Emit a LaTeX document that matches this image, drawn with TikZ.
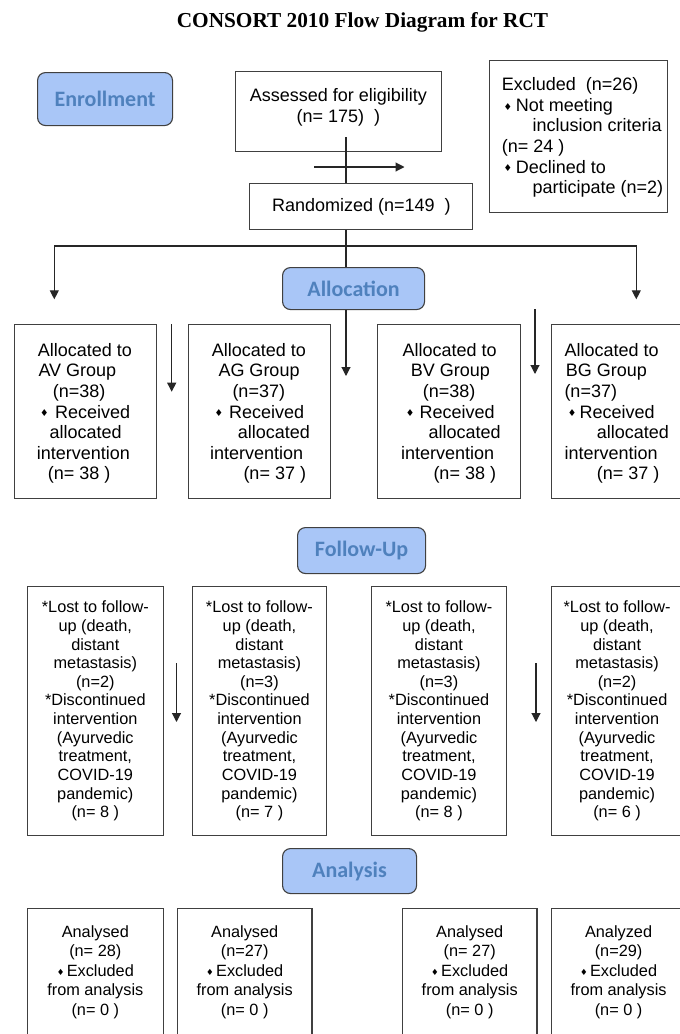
\documentclass[tikz,border=0pt]{standalone}
\usepackage{fontspec}
\setmainfont{Liberation Sans}
\newfontfamily\titlefont{Liberation Serif}
\newfontfamily\secfont{Carlito}
\newfontfamily\djv{DejaVu Sans}
\usetikzlibrary{arrows.meta}
\definecolor{secfill}{HTML}{A9C6F7}
\definecolor{sectext}{HTML}{4F81BD}
\definecolor{edge}{HTML}{404040}
\newcommand{\dia}[1][13.5pt]{\makebox[#1][l]{\raisebox{1.2pt}{\djv\fontsize{9.5}{9.5}\selectfont ♦}}}
\newcommand{\dib}[1][10pt]{\makebox[#1][l]{\raisebox{1pt}{\djv\fontsize{8.5}{8.5}\selectfont ♦}}}
\tikzset{
  box/.style={draw=edge, line width=1.1pt, inner sep=0pt, anchor=north west},
  sec/.style={draw=edge, fill=secfill, rounded corners=8pt, line width=1.1pt,
    font=\secfont\bfseries\fontsize{22}{26}\selectfont, text=sectext,
    inner sep=0pt, anchor=north west},
  tA/.style={font=\fontsize{18}{20.6}\selectfont, inner sep=0pt, align=left},
  tAc/.style={font=\fontsize{18}{20.6}\selectfont, inner sep=0pt, align=center},
  tB/.style={font=\fontsize{16.3}{18.65}\selectfont, align=center},
  tC/.style={font=\fontsize{16.3}{19.5}\selectfont, inner sep=0pt, align=center},
  con/.style={line width=1.1pt, draw=black!85},
  arr/.style={con, -{Triangle[length=9pt,width=9pt]}}
}
\begin{document}
\begin{tikzpicture}[x=1pt,y=-1pt]
\useasboundingbox (0,0) rectangle (680,1034);
\clip (0,0) rectangle (680,1034);
\fill[white] (0,0) rectangle (680,1034);

% title
\node[font=\titlefont\bfseries\fontsize{21.3}{24}\selectfont, anchor=base, inner sep=0pt] (title) at (362.5,27) {CONSORT 2010 Flow Diagram for RCT};

% section labels
\node[sec, minimum width=135pt, minimum height=53pt] (enr) at (37,72) {Enrollment};
\node[sec, minimum width=142pt, minimum height=42pt] (alloc) at (282,267) {Allocation};
\node[sec, minimum width=128pt, minimum height=46pt] (fup) at (297,527) {Follow-Up};
\node[sec, minimum width=134pt, minimum height=45pt] (anl) at (282,848) {Analysis};

% enrollment
\node[box, minimum width=205.7pt, minimum height=79.7pt] (assess) at (235,71) {};
\node[tAc, anchor=north] (assessT) at ([yshift=-17.3pt]assess.north) {Assessed for eligibility\\(n= 175)~~)};
\node[box, minimum width=178pt, minimum height=152pt] (excl) at (489,60) {};
\node[tA, anchor=north west] (exclT) at ([xshift=12.7pt,yshift=-17.5pt]excl.north west) {Excluded~~(n=26)\\
\hspace*{1.6pt}\dia[12.4pt]Not meeting\\
\hspace*{30.6pt}inclusion criteria\\
(n=~24~)\\
\hspace*{1.6pt}\dia[12.4pt]Declined to\\
\hspace*{30.6pt}participate (n=2)};
\node[box, minimum width=223pt, minimum height=46.6pt, font=\fontsize{18}{20.6}\selectfont] (rand) at (249.3,182.7) {Randomized (n=149~~)};

% connectors top
\coordinate (a1) at (346,137);
\draw[con] (a1) -- (a1 |- rand.north);
\coordinate (xa) at (314,167);
\coordinate (xb) at (404.5,167);
\draw[arr] (xa) -- (xb);
\coordinate (split) at (346,246);
\draw[con] (a1 |- rand.south) -- (a1 |- alloc.north);
\coordinate (ltip) at (54.3,299.3);
\coordinate (rtip) at (636.3,299.3);
\draw[arr] (split) -| (ltip);
\draw[arr] (split) -| (rtip);
\coordinate (ctip) at (346,376);
\draw[arr] (a1 |- alloc.south) -- (ctip);
\coordinate (p1s) at (171.7,324);
\coordinate (p1e) at (171.7,391.7);
\draw[arr] (p1s) -- (p1e);
\coordinate (p2s) at (535,309);
\coordinate (p2e) at (535,374);
\draw[arr] (p2s) -- (p2e);

% allocation row
\node[box, minimum width=141.7pt, minimum height=173.7pt] (av) at (14,324) {};
\node[box, minimum width=142.3pt, minimum height=173.7pt] (ag) at (187.7,324) {};
\node[box, minimum width=142.7pt, minimum height=173.7pt] (bv) at (377.3,324) {};
\node[box, minimum width=131pt, minimum height=173.7pt] (bg) at (551,324) {};

\node[tA, anchor=west] (avT) at ([xshift=22.7pt,yshift=-2.1pt]av.west) {\hspace*{1pt}Allocated to\\
\hspace*{1.6pt}AV Group\\
\hspace*{16pt}(n=38)\\
\hspace*{3.3pt}\dia[15pt]Received\\
\hspace*{12.6pt}allocated\\
intervention\\
\hspace*{11pt}(n=~38~)};
\node[tA, anchor=west] (agT) at ([xshift=22.3pt,yshift=-2.1pt]ag.west) {\hspace*{1.7pt}Allocated to\\
\hspace*{8.3pt}AG Group\\
\hspace*{22.3pt}(n=37)\\
\hspace*{4.3pt}\dia[14.7pt]Received\\
\hspace*{27.7pt}allocated\\
intervention\\
\hspace*{33.3pt}(n=~37~)};
\node[tA, anchor=west] (bvT) at ([xshift=23.7pt,yshift=-2.1pt]bv.west) {\hspace*{1.3pt}Allocated to\\
\hspace*{9.7pt}BV Group\\
\hspace*{21.7pt}(n=38)\\
\hspace*{4.7pt}\dia[13.6pt]Received\\
\hspace*{27.3pt}allocated\\
intervention\\
\hspace*{32.3pt}(n=~38~)};
\node[tA, anchor=west] (bgT) at ([xshift=13.3pt,yshift=-2.1pt]bg.west) {Allocated to\\
\hspace*{1.4pt}BG Group\\
(n=37)\\
\hspace*{3.4pt}\dia[11.6pt]Received\\
\hspace*{32.4pt}allocated\\
intervention\\
\hspace*{32.4pt}(n=~37~)};

% follow-up row
\coordinate (q1s) at (176.5,663);
\coordinate (q1e) at (176.5,722);
\draw[arr] (q1s) -- (q1e);
\coordinate (q2s) at (536,663);
\coordinate (q2e) at (536,722);
\draw[arr] (q2s) -- (q2e);

\node[box, tB, minimum width=135.7pt, minimum height=249pt] (fu1) at (26.9,586) {*Lost to follow-\\up (death,\\distant\\metastasis)\\(n=2)\\*Discontinued\\intervention\\(Ayurvedic\\treatment,\\COVID-19\\pandemic)\\(n=~8~)};
\node[box, tB, minimum width=134.4pt, minimum height=249pt] (fu2) at (191.7,586) {*Lost to follow-\\up (death,\\distant\\metastasis)\\(n=3)\\*Discontinued\\intervention\\(Ayurvedic\\treatment,\\COVID-19\\pandemic)\\(n=~7~)};
\node[box, tB, minimum width=135.2pt, minimum height=249pt] (fu3) at (370.8,586) {*Lost to follow-\\up (death,\\distant\\metastasis)\\(n=3)\\*Discontinued\\intervention\\(Ayurvedic\\treatment,\\COVID-19\\pandemic)\\(n=~8~)};
\node[box, tB, minimum width=131pt, minimum height=249pt] (fu4) at (551,586) {*Lost to follow-\\up (death,\\distant\\metastasis)\\(n=2)\\*Discontinued\\intervention\\(Ayurvedic\\treatment,\\COVID-19\\pandemic)\\(n=~6~)};

% analysis row
\node[box, minimum width=135.7pt, minimum height=137pt] (an1) at (26.9,908) {};
\node[box, minimum width=134.5pt, minimum height=137pt] (an2) at (176.9,908) {};
\node[box, minimum width=134.4pt, minimum height=137pt] (an3) at (402,908) {};
\node[box, minimum width=131pt, minimum height=137pt] (an4) at (551,908) {};
\node[tC, anchor=north] (an1T) at ([yshift=-17pt]an1.north) {Analysed\\(n=~28)\\\dib Excluded\\from analysis\\(n=~0~)};
\node[tC, anchor=north] (an2T) at ([yshift=-17pt]an2.north) {Analysed\\(n=27)\\\dib Excluded\\from analysis\\(n=~0~)};
\node[tC, anchor=north] (an3T) at ([yshift=-17pt]an3.north) {Analysed\\(n=~27)\\\dib Excluded\\from analysis\\(n=~0~)};
\node[tC, anchor=north] (an4T) at ([xshift=1.5pt,yshift=-17pt]an4.north) {Analyzed\\(n=29)\\\dib Excluded\\from analysis\\(n=~0~)};
\end{tikzpicture}
\end{document}
